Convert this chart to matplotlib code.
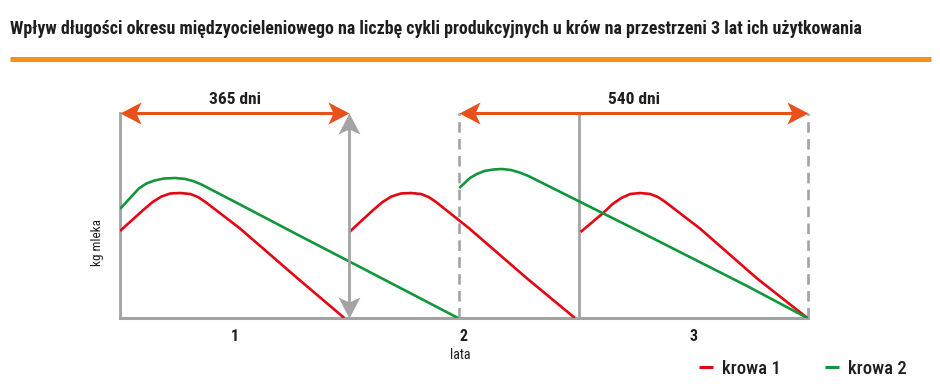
import os
import numpy as np
import matplotlib
matplotlib.use("Agg")
import matplotlib.pyplot as plt
import matplotlib.font_manager as fm
from matplotlib.font_manager import FontProperties
from matplotlib.lines import Line2D
from matplotlib.path import Path

# ---------------- data (days since first calving, kg milk) ----------------
title = ("Wpływ długości okresu międzyocieleniowego na liczbę cykli produkcyjnych "
         "u krów na przestrzeni 3 lat ich użytkowania")

red1_days = [0, 37, 52, 66, 80, 96, 112, 124, 136, 191, 282, 357]
red1_kg = [17.4, 21.6, 23.2, 24.3, 24.9, 25.0, 24.8, 24.2, 23.2, 17.9, 8.0, 0.0]

red2_days = [365, 403, 418, 432, 447, 463, 479, 491, 503, 556, 647, 724]
red2_kg = [17.2, 21.6, 23.2, 24.3, 24.9, 25.0, 24.8, 24.2, 23.2, 17.9, 8.0, 0.0]

red3_days = [733, 769, 784, 798, 812, 828, 844, 856, 868, 923, 1014, 1094]
red3_kg = [17.2, 21.0, 22.8, 24.0, 24.8, 25.0, 24.8, 24.2, 23.2, 17.9, 7.9, 0.0]

green1_days = [0, 30, 42, 55, 70, 88, 104, 116, 128, 191, 282, 382, 538]
green1_kg = [21.8, 25.9, 26.9, 27.5, 27.9, 28.0, 27.8, 27.4, 26.8, 22.7, 16.7, 10.2, 0.0]

green2_days = [540, 557, 568, 580, 594, 608, 622, 636, 650, 685, 833, 998, 1094]
green2_kg = [26.0, 28.0, 28.8, 29.4, 29.7, 29.8, 29.6, 29.1, 28.4, 26.2, 16.9, 6.4, 0.0]

year_ticks = [182.5, 547.5, 912.5]
year_labels = ["1", "2", "3"]
interval_short = (0, 365)
interval_long = (540, 1095)
interval_labels = ["365 dni", "540 dni"]
year_ends = [365, 730]
series_labels = ["krowa 1", "krowa 2"]

# ---------------- fonts ----------------
def pick_fonts():
    cond = []
    for f in fm.fontManager.ttflist:
        base = os.path.basename(f.fname)
        st = str(f.stretch)
        is_c = ("Narrow" in f.name or "Condensed" in f.name or "Narrow" in base
                or "Condensed" in base or st in ("condensed", "semi-condensed",
                                                 "extra-condensed", "ultra-condensed"))
        if is_c and f.style == "normal" and "Italic" not in base:
            cond.append(f)
    order = ["Roboto", "Liberation", "Noto Sans", "Open Sans", "DejaVu"]
    def rank(f):
        for i, o in enumerate(order):
            if f.name.startswith(o) or os.path.basename(f.fname).startswith(o.replace(" ", "")):
                return i
        return 99
    def wnum(f):
        w = f.weight
        if isinstance(w, str):
            w = fm.weight_dict.get(w, 400)
        return w
    cond.sort(key=rank)
    reg = med = bold = None
    if cond:
        best = rank(cond[0])
        fam = [f for f in cond if rank(f) == best]
        reg = min(fam, key=lambda f: abs(wnum(f) - 400)).fname
        med = min(fam, key=lambda f: abs(wnum(f) - 500)).fname
        bold = min(fam, key=lambda f: abs(wnum(f) - 700)).fname
    return reg, med, bold

REG_F, MED_F, BOLD_F = pick_fonts()

def fp(weight="normal", size=10):
    path = {"normal": REG_F, "medium": MED_F, "bold": BOLD_F}[weight]
    if path:
        return FontProperties(fname=path, size=size)
    return FontProperties(family="Liberation Sans", weight=weight, size=size,
                          stretch="condensed")

# ---------------- style ----------------
RED = "#e30613"
GREEN = "#12963c"
ORANGE_ARROW = "#e8501c"
ORANGE_RULE = "#f5921e"
GRAY = "#a3a3a3"
TXT = "#1e1e1e"

def head_marker(angle_deg):
    # stealth-like arrow head with tip at the origin, pointing along +x before rotation
    L, Wd, N = 21.0, 11.0, 5.0
    verts = np.array([(0, 0), (-L, Wd), (-L + N, 0), (-L, -Wd), (0, 0)])
    a = np.deg2rad(angle_deg)
    R = np.array([[np.cos(a), -np.sin(a)], [np.sin(a), np.cos(a)]])
    verts = verts @ R.T
    codes = [Path.MOVETO, Path.LINETO, Path.LINETO, Path.LINETO, Path.CLOSEPOLY]
    return Path(verts, codes)

HEAD_MS = 2 * 21.0 * 0.72  # marker size in points so the head is ~21 px long

W, H = 940, 392
fig = plt.figure(figsize=(W / 100, H / 100), dpi=100)
fig.patch.set_facecolor("white")

ax = fig.add_axes([120 / W, (H - 318) / H, 688 / W, 205 / H])
ax.set_xlim(0, 1095)
ax.set_ylim(0, 41)
px_x = 1095 / 688.0   # days per pixel
px_y = 41 / 205.0     # kg per pixel

for s in ["top", "right"]:
    ax.spines[s].set_visible(False)
ax.spines["left"].set_color(GRAY)
ax.spines["left"].set_linewidth(2.0)
ax.spines["bottom"].set_color(GRAY)
ax.spines["bottom"].set_linewidth(2.2)
ax.set_yticks([])
ax.set_xticks(year_ticks)
ax.set_xticklabels(year_labels)
for lab in ax.get_xticklabels():
    lab.set_fontproperties(fp("bold", 11.5))
    lab.set_color(TXT)
ax.tick_params(axis="x", length=0, pad=8)

# vertical reference lines
ax.axvline(year_ends[1], color=GRAY, lw=2.0, zorder=2)
ax.axvline(interval_long[0], color=GRAY, lw=1.9, ls=(0, (4, 2.4)), zorder=2)
ax.axvline(interval_long[1], color=GRAY, lw=1.9, ls=(0, (4, 2.4)), zorder=2, clip_on=False)

# curves
kw = dict(lw=1.9, solid_joinstyle="round", solid_capstyle="butt", zorder=4)
l_red, = ax.plot(red1_days, red1_kg, color=RED, label=series_labels[0], **kw)
ax.plot(red2_days, red2_kg, color=RED, **kw)
ax.plot(red3_days, red3_kg, color=RED, **kw)
l_green, = ax.plot(green1_days, green1_kg, color=GREEN, label=series_labels[1], **kw)
ax.plot(green2_days, green2_kg, color=GREEN, **kw)

# gray double arrow at end of year 1
x0 = year_ends[0]
ax.plot([x0, x0], [0 + 8 * px_y, 41 - 8 * px_y], color=GRAY, lw=2.0,
        solid_capstyle="butt", zorder=5, clip_on=False)
ax.plot([x0], [41], marker=head_marker(90), ms=HEAD_MS, color=GRAY, mew=0,
        zorder=5, clip_on=False, ls="none")
ax.plot([x0], [0], marker=head_marker(-90), ms=HEAD_MS, color=GRAY, mew=0,
        zorder=5, clip_on=False, ls="none")

# orange interval arrows
for (a, b), lab in zip([interval_short, interval_long], interval_labels):
    ax.plot([a + 8 * px_x, b - 8 * px_x], [41, 41], color=ORANGE_ARROW, lw=2.2,
            solid_capstyle="butt", zorder=6, clip_on=False)
    ax.plot([a], [41], marker=head_marker(180), ms=HEAD_MS, color=ORANGE_ARROW,
            mew=0, zorder=6, clip_on=False, ls="none")
    ax.plot([b], [41], marker=head_marker(0), ms=HEAD_MS, color=ORANGE_ARROW,
            mew=0, zorder=6, clip_on=False, ls="none")
    ax.text((a + b) / 2, 43.6, lab, ha="center", va="center",
            fontproperties=fp("bold", 12.5), color=TXT, clip_on=False)

# axis labels
ax.text(-22 / 688, (318 - 243) / 205, "kg mleka", rotation=90, ha="center", va="center",
        transform=ax.transAxes, fontproperties=fp("normal", 9.5), color=TXT)
fig.text(460 / W, 1 - 355 / H, "lata", ha="center", va="center",
         fontproperties=fp("normal", 10), color=TXT)

# title + rule
t = fig.text(10 / W, 1 - 33.5 / H, title, ha="left", va="baseline",
             fontproperties=fp("bold", 12), color=TXT)
fig.canvas.draw()
wt = t.get_window_extent().width
if wt > 0:
    t.set_fontproperties(fp("bold", 12 * 852 / wt))
fig.add_artist(Line2D([10 / W, 931 / W], [1 - 58.5 / H] * 2, color=ORANGE_RULE,
                      lw=3.6, solid_capstyle="butt"))

# legend
leg = fig.legend(handles=[l_red, l_green], labels=series_labels, loc="center left",
                 bbox_to_anchor=(699 / W, 1 - 369 / H), ncol=2, frameon=False,
                 handlelength=0.75, handletextpad=0.45, columnspacing=2.4,
                 borderpad=0, borderaxespad=0, prop=fp("medium", 13.5))
for txt in leg.get_texts():
    txt.set_color(TXT)
for h in leg.legend_handles:
    h.set_linewidth(2.2)

fig.savefig("out.png", dpi=100, facecolor="white")
